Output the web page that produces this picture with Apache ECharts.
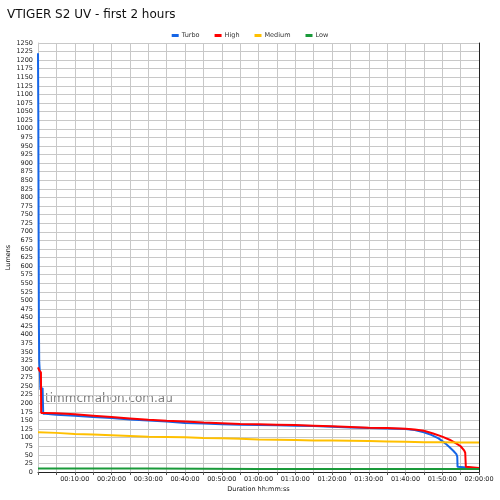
<!DOCTYPE html>
<html><head><meta charset="utf-8">
<script src="https://cdn.jsdelivr.net/npm/echarts@6/dist/echarts.min.js"></script>
<style>html,body{margin:0;padding:0;background:#fff}#c{width:500px;height:500px}</style>
</head><body><div id="c"></div>
<script>
var seriesNames = ['Turbo', 'High', 'Medium', 'Low'];
var turboTime = [0,5,10,15,20,30,40,60,75,80,85,120,300,600,900,1200,1500,1800,2100,2400,2700,3000,3300,3600,3900,4200,4500,4800,5100,5400,5700,6000,6150,6300,6420,6540,6600,6660,6720,6780,6830,6845,6850,6860,7200];
var turboVal  = [1220,1050,700,420,320,290,240,245,245,245,170,170,167,164,160,157,153,150,147,143,141,139,138,137,136,135,134,132,130,128,127,125,122,116,108,98,90,82,72,62,52,45,15,12,10];
var highTime = [0,10,20,40,48,52,120,300,600,900,1200,1500,1800,2100,2400,2700,3000,3300,3600,3900,4200,4500,4800,5100,5400,5700,6000,6150,6300,6450,6600,6720,6840,6900,6960,6975,6985,7000,7200];
var highVal  = [305,300,296,295,290,172,172,171,168,164,160,156,152,149,147,144,142,140,139,138,137,135,133,131,129,128,126,124,120,112,103,94,82,75,62,56,15,12,12];
var mediumTime = [0,300,600,900,1200,1500,1800,2100,2400,2700,3000,3300,3600,3900,4200,4500,4800,5100,5400,5700,6000,6300,6600,6900,7200];
var mediumVal  = [116,114,111,109,107,105,103,102,101,99,98,97,95,94,93,92,92,91,90,89,88,87,87,86,86];
var lowTime = [0,1800,3600,5400,7200];
var lowVal  = [10,10,9,9,9];
var colors = ['#1565e6', '#ff0000', '#ffc000', '#1a9a3a'];

function pairs(t, v){ return t.map(function(x,i){ return [x, v[i]]; }); }
function fmt(s){
  if (s === 0 || s % 600 !== 0) return '';
  var h = Math.floor(s/3600), m = Math.floor((s%3600)/60);
  return (h<10?'0':'')+h+':'+(m<10?'0':'')+m+':00';
}
var chart = echarts.init(document.getElementById('c'));
var font = 'DejaVu Sans';
chart.setOption({
  animation:false,
  backgroundColor:'#fff',
  title:{text:'VTIGER S2 UV - first 2 hours', left:2, top:4, textStyle:{fontFamily:font, fontSize:12, fontWeight:'normal', color:'#111'}},
  legend:{top:32, left:'center', itemWidth:7, itemHeight:3, itemGap:15, icon:'rect', padding:0,
    textStyle:{fontFamily:font, fontSize:6.5, color:'#333', padding:[0,0,0,-2]}, data:seriesNames},
  grid:{left:38, right:21, top:43, bottom:28, outerBoundsMode:'none', containLabel:false},
  xAxis:{type:'value', min:0, max:7200, interval:300,
    name:'Duration hh:mm:ss', nameLocation:'middle', nameGap:14, nameMoveOverlap:false,
    nameTextStyle:{fontFamily:font, fontSize:6.5, color:'#111'},
    axisLine:{lineStyle:{color:'#222'}}, axisTick:{length:3, lineStyle:{color:'#555'}},
    axisLabel:{formatter:fmt, fontFamily:font, fontSize:6.5, color:'#222', margin:4, showMinLabel:true, hideOverlap:false},
    splitLine:{show:true, lineStyle:{color:'#c8c8c8', width:1}}},
  yAxis:[{type:'value', min:0, max:1250, interval:25,
    name:'Lumens', nameLocation:'middle', nameGap:26, nameRotate:90, nameMoveOverlap:false,
    nameTextStyle:{fontFamily:font, fontSize:6.5, color:'#111'},
    axisLine:{show:true, lineStyle:{color:'#c8c8c8'}}, axisTick:{show:false},
    axisLabel:{formatter:function(v){return String(v);}, fontFamily:font, fontSize:6.5, color:'#222', margin:5, hideOverlap:false},
    splitLine:{show:true, lineStyle:{color:'#c8c8c8', width:1}}},
    {type:'value', min:0, max:1250, interval:25, position:'right',
     axisLine:{show:true, lineStyle:{color:'#222'}}, axisTick:{show:false}, axisLabel:{show:false}, splitLine:{show:false}}],
  graphic:[{type:'text', left:45, top:393, style:{text:'timmcmahon.com.au', font:'12px "DejaVu Sans"', fill:'rgba(80,80,80,0.75)'}}],
  series:[
    {name:'Turbo', type:'line', data:pairs(turboTime, turboVal), showSymbol:false, color:colors[0], lineStyle:{width:2}},
    {name:'High', type:'line', data:pairs(highTime, highVal), showSymbol:false, color:colors[1], lineStyle:{width:2}},
    {name:'Medium', type:'line', data:pairs(mediumTime, mediumVal), showSymbol:false, color:colors[2], lineStyle:{width:2}},
    {name:'Low', type:'line', data:pairs(lowTime, lowVal), showSymbol:false, color:colors[3], lineStyle:{width:2}}
  ]
});
</script></body></html>
